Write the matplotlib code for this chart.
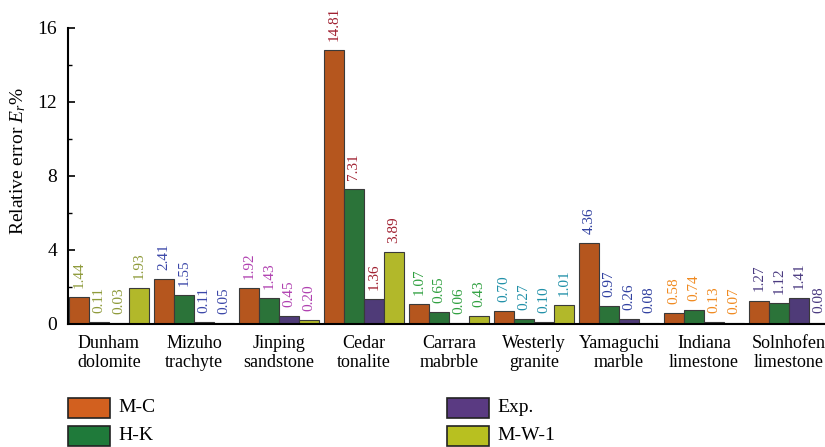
import matplotlib
matplotlib.use("Agg")
import matplotlib.pyplot as plt
from matplotlib.patches import Rectangle
from matplotlib.ticker import MultipleLocator

plt.rcParams["font.family"] = ["Liberation Serif", "DejaVu Serif"]
plt.rcParams["mathtext.fontset"] = "custom"
plt.rcParams["mathtext.it"] = "Liberation Serif:italic"
plt.rcParams["mathtext.rm"] = "Liberation Serif"

ROCKS = ["Dunham\ndolomite", "Mizuho\ntrachyte", "Jinping\nsandstone",
         "Cedar\ntonalite", "Carrara\nmabrble", "Westerly\ngranite",
         "Yamaguchi\nmarble", "Indiana\nlimestone", "Solnhofen\nlimestone"]
SERIES = ["M-C", "H-K", "Exp.", "M-W-1"]
MC = [1.44, 2.41, 1.92, 14.81, 1.07, 0.70, 4.36, 0.58, 1.27]
HK = [0.11, 1.55, 1.43, 7.31, 0.65, 0.27, 0.97, 0.74, 1.12]
EXP = [0.03, 0.11, 0.45, 1.36, 0.06, 0.10, 0.26, 0.13, 1.41]
MW1 = [1.93, 0.05, 0.20, 3.89, 0.43, 1.01, 0.08, 0.07, 0.08]

BAR_COLORS = ["#b5561e", "#2b7339", "#4f3b78", "#b2b82a"]
LEG_COLORS = ["#d2601f", "#1f7a3a", "#5a3a82", "#b8c020"]
# value-label colour for each rock group
LABEL_COLORS = ["#8e9a3a", "#3a46a8", "#b040b0", "#a02030", "#30a040",
                "#2090a8", "#3040a0", "#f08a20", "#4a3a80"]

W, H = 825, 447
fig = plt.figure(figsize=(W / 100, H / 100), dpi=100)
ax = fig.add_axes([68 / W, (H - 324) / H, (W - 68) / W, 296 / H])

bw = 20 / 85
values = [MC, HK, EXP, MW1]
for j, vals in enumerate(values):
    xs = [i + j * bw for i in range(len(ROCKS))]
    ax.bar(xs, vals, width=bw, align="edge", color=BAR_COLORS[j],
           edgecolor="#3a3a3a", linewidth=0.8, zorder=2)
    for i, (x, v) in enumerate(zip(xs, vals)):
        ax.annotate(f"{v:.2f}", (x + bw / 2, v), xytext=(0, 6.5),
                    textcoords="offset points", rotation=90,
                    ha="center", va="bottom", fontsize=11,
                    color=LABEL_COLORS[i])

ax.set_xlim(-1 / 85, (W - 69) / 85)
ax.set_ylim(0, 16)
ax.yaxis.set_major_locator(MultipleLocator(4))
ax.yaxis.set_minor_locator(MultipleLocator(2))
ax.tick_params(axis="y", direction="in", length=5, width=1.2,
               labelsize=14, pad=8)
ax.tick_params(axis="y", which="minor", direction="in", length=3, width=1)
ax.set_xticks([i + 2 * bw for i in range(len(ROCKS))])
ax.set_xticklabels(ROCKS, fontsize=13, linespacing=1.15)
ax.tick_params(axis="x", length=0, pad=8)
for s in ("top", "right"):
    ax.spines[s].set_visible(False)
ax.spines["left"].set_linewidth(1.5)
ax.spines["bottom"].set_linewidth(1.5)
ax.set_ylabel("Relative error $E_r$%", fontsize=14)
ax.yaxis.set_label_coords(-40 / (W - 68), 0.55)

# legend: two columns of filled squares below the axes
legend_pos = [(68, 398), (68, 426), (447, 398), (447, 426)]
for (px, py), name, col in zip(legend_pos, SERIES, LEG_COLORS):
    fig.add_artist(Rectangle((px / W, 1 - (py + 20) / H), 42 / W, 20 / H,
                             transform=fig.transFigure, facecolor=col,
                             edgecolor="#222222", linewidth=1.2))
    fig.text((px + 50) / W, 1 - (py + 10) / H, name, fontsize=14,
             va="center", ha="left")

fig.savefig("out.png", dpi=100)
